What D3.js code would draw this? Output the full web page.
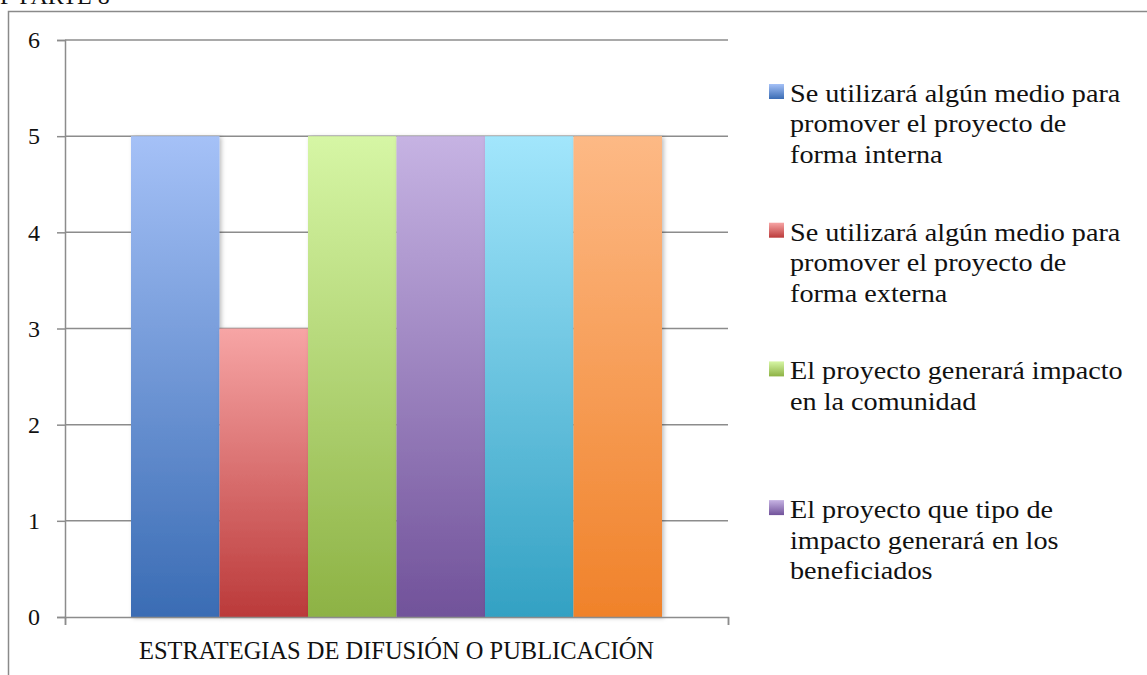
<!DOCTYPE html>
<html>
<head>
<meta charset="utf-8">
<script src="https://cdn.jsdelivr.net/npm/d3@7"></script>
<style>
  html, body { margin: 0; padding: 0; background: #fff; }
  svg { display: block; }
  text { font-family: "Liberation Serif", "DejaVu Serif", serif; fill: #111; }
</style>
</head>
<body>
<svg id="chart" width="1147" height="675"></svg>
<script>
// ---- data ----
const category = "ESTRATEGIAS DE DIFUSIÓN O PUBLICACIÓN";
const seriesNames = [
  "Se utilizará algún medio para promover el proyecto de forma interna",
  "Se utilizará algún medio para promover el proyecto de forma externa",
  "El proyecto generará impacto en la comunidad",
  "El proyecto que tipo de impacto generará en los beneficiados",
  "Serie 5",
  "Serie 6"
];
const seriesValues = [5, 3, 5, 5, 5, 5];
const yTicks = [0, 1, 2, 3, 4, 5, 6];
const legendLines = [
  ["Se utilizará algún medio para", "promover el proyecto de", "forma interna"],
  ["Se utilizará algún medio para", "promover el proyecto de", "forma externa"],
  ["El proyecto generará impacto", "en la comunidad"],
  ["El proyecto que tipo de", "impacto generará en los", "beneficiados"]
];
const colorsTop    = ["#a5c1f7", "#f7a5a5", "#d6f6a5", "#c6b3e3", "#a2e6fc", "#fdb985"];
const colorsBottom = ["#3a6cb4", "#bb3a3a", "#8db244", "#71529a", "#33a1c3", "#f0822a"];
const pageTitle = "F PARTE 8";

// ---- layout ----
const svg = d3.select("#chart");
const plot = { left: 65, right: 728, top: 40, bottom: 617 };

const y = d3.scaleLinear().domain([0, 6]).range([plot.bottom, plot.top]);
const x0 = d3.scaleBand().domain([category]).range([plot.left, plot.right]).paddingOuter(0.1).paddingInner(0);
const x1 = d3.scaleBand().domain(d3.range(seriesValues.length))
  .range([plot.left + 66, plot.right - 66]);

const defs = svg.append("defs");
colorsTop.forEach((c, i) => {
  const g = defs.append("linearGradient").attr("id", "grad" + i)
    .attr("x1", 0).attr("y1", 0).attr("x2", 0).attr("y2", 1);
  g.append("stop").attr("offset", "0%").attr("stop-color", c);
  g.append("stop").attr("offset", "100%").attr("stop-color", colorsBottom[i]);
});
const flt = defs.append("filter").attr("id", "shadow")
  .attr("x", "-10%").attr("y", "-5%").attr("width", "130%").attr("height", "110%");
flt.append("feDropShadow").attr("dx", 2).attr("dy", 1).attr("stdDeviation", 2)
  .attr("flood-color", "#000").attr("flood-opacity", 0.25);

// page title fragment (cut at top)
svg.append("text").attr("x", 0).attr("y", 4).attr("font-size", 24).text(pageTitle);

// outer frame
svg.append("path").attr("d", "M8.5,675 L8.5,11.5 L1147,11.5")
  .attr("fill", "none").attr("stroke", "#8a8a8a").attr("stroke-width", 1.5);

// gridlines
svg.append("g").selectAll("line").data(yTicks.filter(d => d > 0)).join("line")
  .attr("x1", plot.left).attr("x2", plot.right)
  .attr("y1", d => y(d)).attr("y2", d => y(d))
  .attr("stroke", "#8c8c8c").attr("stroke-width", 1.5);

// y axis
const yAxis = svg.append("g").attr("transform", `translate(${plot.left},0)`)
  .call(d3.axisLeft(y).tickValues(yTicks).tickSize(8).tickPadding(17).tickFormat(d3.format("d")));
yAxis.select(".domain").attr("stroke", "#8c8c8c").attr("stroke-width", 1.5);
yAxis.selectAll(".tick line").attr("stroke", "#8c8c8c").attr("stroke-width", 1.5);
yAxis.selectAll(".tick text").attr("font-family", "Liberation Serif").attr("font-size", 24).attr("fill", "#111");

// bars
svg.append("g").selectAll("rect").data(seriesValues).join("rect")
  .attr("x", (d, i) => x1(i))
  .attr("width", x1.bandwidth())
  .attr("y", d => y(d))
  .attr("height", d => y(0) - y(d))
  .attr("fill", (d, i) => `url(#grad${i})`)
  .attr("filter", "url(#shadow)");

// x axis
const xAxis = svg.append("g").attr("transform", `translate(0,${plot.bottom})`)
  .call(d3.axisBottom(d3.scaleLinear().domain([0, 1]).range([plot.left, plot.right]))
    .tickValues([0, 1]).tickSize(8).tickFormat(""));
xAxis.select(".domain").attr("stroke", "#8c8c8c").attr("stroke-width", 1.5);
xAxis.selectAll(".tick line").attr("stroke", "#8c8c8c").attr("stroke-width", 1.5);

svg.append("text")
  .attr("x", x0(category) + x0.bandwidth() / 2).attr("y", 659)
  .attr("text-anchor", "middle").attr("font-size", 25)
  .attr("textLength", 515).attr("lengthAdjust", "spacingAndGlyphs")
  .text(category);

// legend
const legendY0 = 102, legendStep = 138.7, lineH = 30.5;
const leg = svg.append("g");
legendLines.forEach((lines, i) => {
  const by = legendY0 + i * legendStep;
  leg.append("rect").attr("x", 769).attr("y", by - 18).attr("width", 15).attr("height", 15)
    .attr("fill", `url(#grad${i})`);
  const t = leg.append("text").attr("transform", `translate(790,${by}) scale(1.085,1)`)
    .attr("font-size", 26);
  lines.forEach((ln, j) => {
    t.append("tspan").attr("x", 0).attr("y", j * lineH).text(ln);
  });
});
</script>
</body>
</html>
